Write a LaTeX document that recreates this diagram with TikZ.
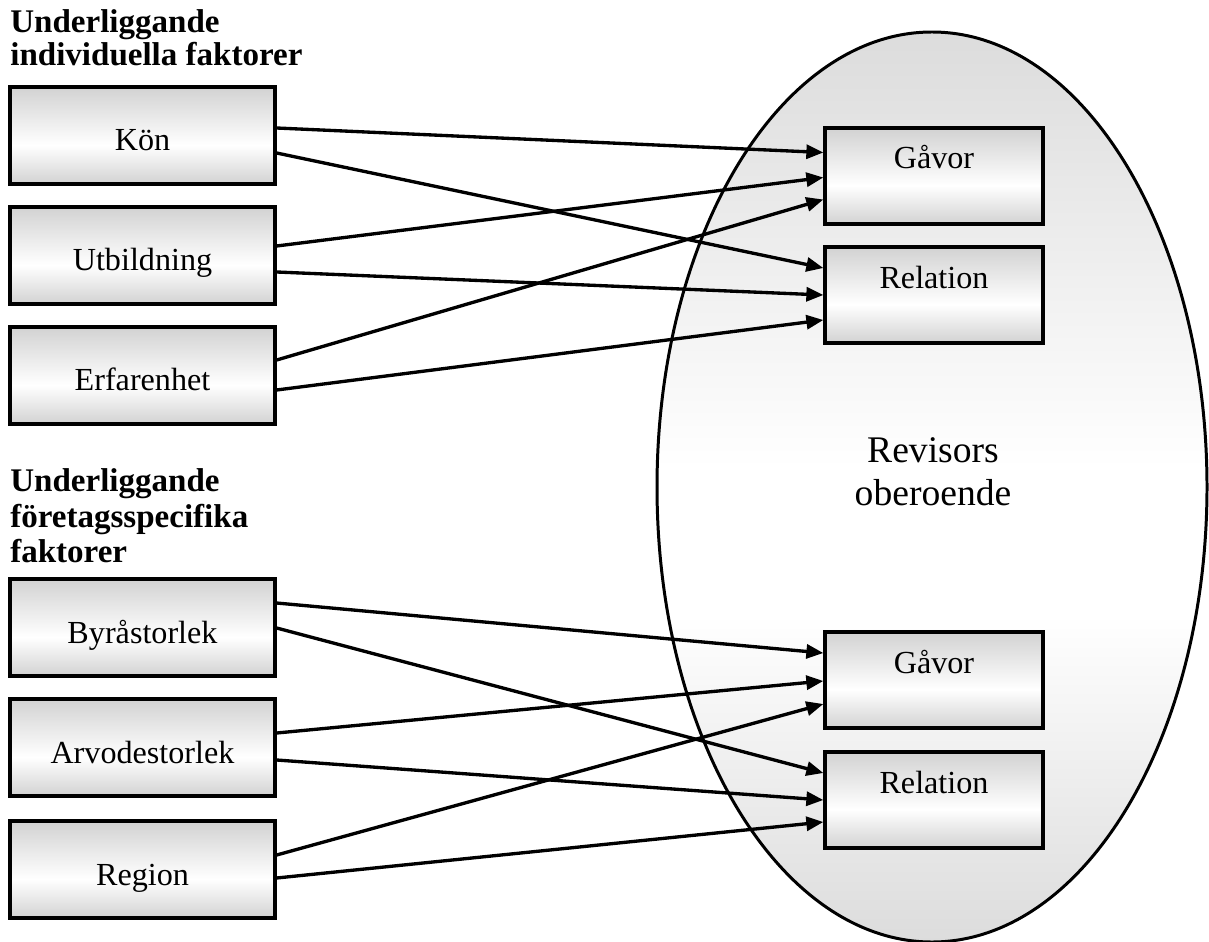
\documentclass[tikz,border=0pt]{standalone}
\usepackage{fontspec}
\setmainfont{Liberation Serif}
\usetikzlibrary{arrows.meta}

\definecolor{rvBoxGray}{RGB}{210,210,210}
\definecolor{rvOvalGray}{RGB}{220,220,220}
\pgfdeclareverticalshading{rvboxshade}{100bp}{color(0bp)=(rvBoxGray); color(25bp)=(rvBoxGray); color(45bp)=(white); color(75bp)=(rvBoxGray); color(100bp)=(rvBoxGray)}
\pgfdeclareverticalshading{rvovalshade}{100bp}{color(0bp)=(rvOvalGray); color(25bp)=(rvOvalGray); color(43bp)=(white); color(51bp)=(white); color(75bp)=(rvOvalGray); color(100bp)=(rvOvalGray)}

\begin{document}
\begin{tikzpicture}[x=0.02cm, y=-0.02cm,
  factorbox/.style={draw, line width=1.9pt, shading=rvboxshade, minimum width=5.3cm,
    inner ysep=0pt, text height=1.28cm, text depth=0.66cm, font={\fontsize{18.3}{22}\selectfont}},
  aspectbox/.style={draw, line width=1.9pt, shading=rvboxshade, minimum width=4.36cm,
    inner ysep=0pt, text height=0.82cm, text depth=1.10cm, font={\fontsize{18.3}{22}\selectfont}},
  heading/.style={anchor=north west, inner sep=0pt, align=left},
  link/.style={line width=1.9pt, -{Triangle[length=0.34cm,width=0.28cm]}}]
\useasboundingbox (0,0) rectangle (1209,942);
%% the oval
\shadedraw[shading=rvovalshade, line width=1.7pt] (932,487) ellipse [x radius=275, y radius=455];
\node[align=center, font={\fontsize{21.4}{24.4}\selectfont}] (rev) at (933,472) {Revisors\\oberoende};
%% headings
\node[heading, font={\fontsize{18.8}{18.7}\selectfont\bfseries}] (headInd) at (10,9)
  {Underliggande\\individuella faktorer};
\node[heading, font={\fontsize{18.8}{20.4}\selectfont\bfseries}] (headFtg) at (10,468)
  {Underliggande\\företagsspecifika\\faktorer};
%% left boxes
\node[factorbox] (kon)    at (142.5,135.5) {Kön};
\node[factorbox] (utb)    at (142.5,255.5) {Utbildning};
\node[factorbox] (erf)    at (142.5,375.5) {Erfarenhet};
\node[factorbox] (byra)   at (142.5,627.5) {Byråstorlek};
\node[factorbox] (arvode) at (142.5,747.5) {Arvodestorlek};
\node[factorbox] (region) at (142.5,869.5) {Region};
%% right boxes
\node[aspectbox] (gavorA) at (934,176) {Gåvor};
\node[aspectbox] (relA)   at (934,295) {Relation};
\node[aspectbox] (gavorB) at (934,680) {Gåvor};
\node[aspectbox] (relB)   at (934,800) {Relation};
%% individual factors
\draw[link] ([yshift=0.15cm]kon.east)  -- ([yshift=0.47cm]gavorA.west);
\draw[link] ([yshift=-0.35cm]kon.east) -- ([yshift=0.54cm]relA.west);
\draw[link] ([yshift=0.19cm]utb.east)  -- ([yshift=-0.03cm]gavorA.west);
\draw[link] ([yshift=-0.33cm]utb.east) -- (relA.west);
\draw[link] ([yshift=0.31cm]erf.east)  -- ([yshift=-0.47cm]gavorA.west);
\draw[link] ([yshift=-0.29cm]erf.east) -- ([yshift=-0.5cm]relA.west);
%% company specific factors
\draw[link] ([yshift=0.49cm]byra.east)    -- ([yshift=0.54cm]gavorB.west);
\draw[link] ([yshift=-0.01cm]byra.east)   -- ([yshift=0.54cm]relB.west);
\draw[link] ([yshift=0.29cm]arvode.east)  -- ([yshift=-0.02cm]gavorB.west);
\draw[link] ([yshift=-0.25cm]arvode.east) -- (relB.west);
\draw[link] ([yshift=0.29cm]region.east)  -- ([yshift=-0.48cm]gavorB.west);
\draw[link] ([yshift=-0.17cm]region.east) -- ([yshift=-0.44cm]relB.west);
\end{tikzpicture}
\end{document}
